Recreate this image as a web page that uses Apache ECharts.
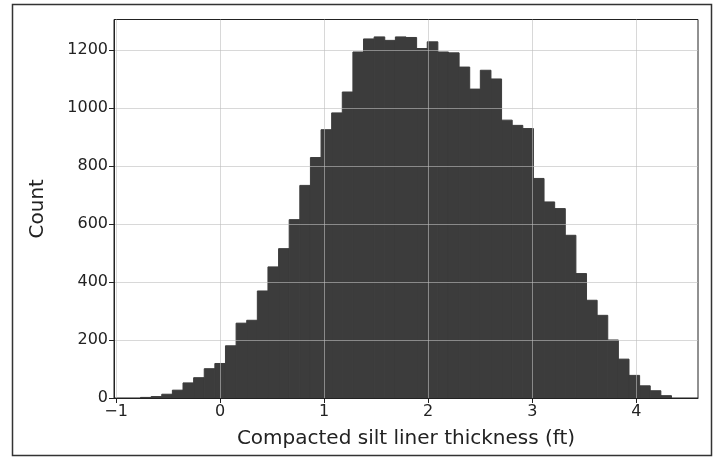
<!DOCTYPE html>
<html>
<head>
<meta charset="utf-8">
<script src="https://cdn.jsdelivr.net/npm/echarts/dist/echarts.min.js"></script>
<style>
html,body{margin:0;padding:0;background:#fff;}
#chart{width:720px;height:463px;}
</style>
</head>
<body>
<div id="chart"></div>
<script>
// Histogram bins: first edge and bin width (ft)
var binStart = -0.765;
var binWidth = 0.10206;
// Counts per bin (50 bins)
var counts = [2, 5, 13, 27, 52, 70, 101, 119, 180, 258,
              268, 369, 452, 515, 615, 733, 829, 925, 983, 1055,
              1193, 1238, 1245, 1233, 1245, 1243, 1205, 1228, 1193, 1190,
              1141, 1065, 1130, 1100, 958, 940, 929, 757, 676, 653,
              561, 429, 337, 285, 200, 134, 78, 42, 25, 8];
var xTicks = [-1, 0, 1, 2, 3, 4];
var yTicks = [0, 200, 400, 600, 800, 1000, 1200];
var xTitle = 'Compacted silt liner thickness (ft)';
var yTitle = 'Count';

var data = counts.map(function (c, i) {
  var x0 = binStart + i * binWidth;
  return [x0, x0 + binWidth, c];
});

var chart = echarts.init(document.getElementById('chart'), null, {renderer: 'canvas'});
var font = 'DejaVu Sans';
var txt = '#222';
var gridCol = 'rgba(190,190,190,0.6)';
var barCol = '#3c3c3c';

chart.setOption({
  animation: false,
  backgroundColor: '#fff',
  graphic: [{
    type: 'rect', silent: true, z: 100,
    shape: {x: 12.5, y: 4.5, width: 699, height: 451},
    style: {fill: 'none', stroke: '#333', lineWidth: 1.5}
  }],
  grid: {
    left: 114, right: 22, top: 19.5, bottom: 65,
    show: true, borderColor: '#222', borderWidth: 1, backgroundColor: 'transparent'
  },
  xAxis: {
    type: 'value', min: -1.02, max: 4.593, z: 5,
    name: xTitle, nameLocation: 'middle', nameGap: 31,
    nameTextStyle: {fontFamily: font, fontSize: 20, color: txt},
    axisLine: {show: true, onZero: false, lineStyle: {color: '#222', width: 1}},
    axisTick: {show: true, length: 5, customValues: xTicks, lineStyle: {color: '#222'}},
    axisLabel: {customValues: xTicks, fontFamily: font, fontSize: 16, color: txt, margin: 6,
      formatter: function (v) { return String(v).replace('-', '\u2212'); }},
    splitLine: {show: true, lineStyle: {color: gridCol, width: 1}}
  },
  yAxis: {
    type: 'value', min: 0, max: 1305, z: 5,
    name: yTitle, nameLocation: 'middle', nameGap: 66, nameRotate: 90,
    nameTextStyle: {fontFamily: font, fontSize: 20, color: txt},
    axisLine: {show: true, onZero: false, lineStyle: {color: '#222', width: 1}},
    axisTick: {show: true, length: 5, customValues: yTicks, lineStyle: {color: '#222'}},
    axisLabel: {customValues: yTicks, fontFamily: font, fontSize: 16, color: txt, margin: 6,
      formatter: function (v) { return String(v); }},
    splitLine: {show: true, lineStyle: {color: gridCol, width: 1}}
  },
  series: [{
    type: 'custom', z: 2,
    data: data,
    encode: {x: [0, 1], y: 2},
    renderItem: function (params, api) {
      var p0 = api.coord([api.value(0), api.value(2)]);
      var p1 = api.coord([api.value(1), 0]);
      return {
        type: 'rect',
        shape: {x: p0[0], y: p0[1], width: p1[0] - p0[0], height: p1[1] - p0[1]},
        style: {fill: barCol, stroke: barCol, lineWidth: 1}
      };
    }
  }]
});
</script>
</body>
</html>
